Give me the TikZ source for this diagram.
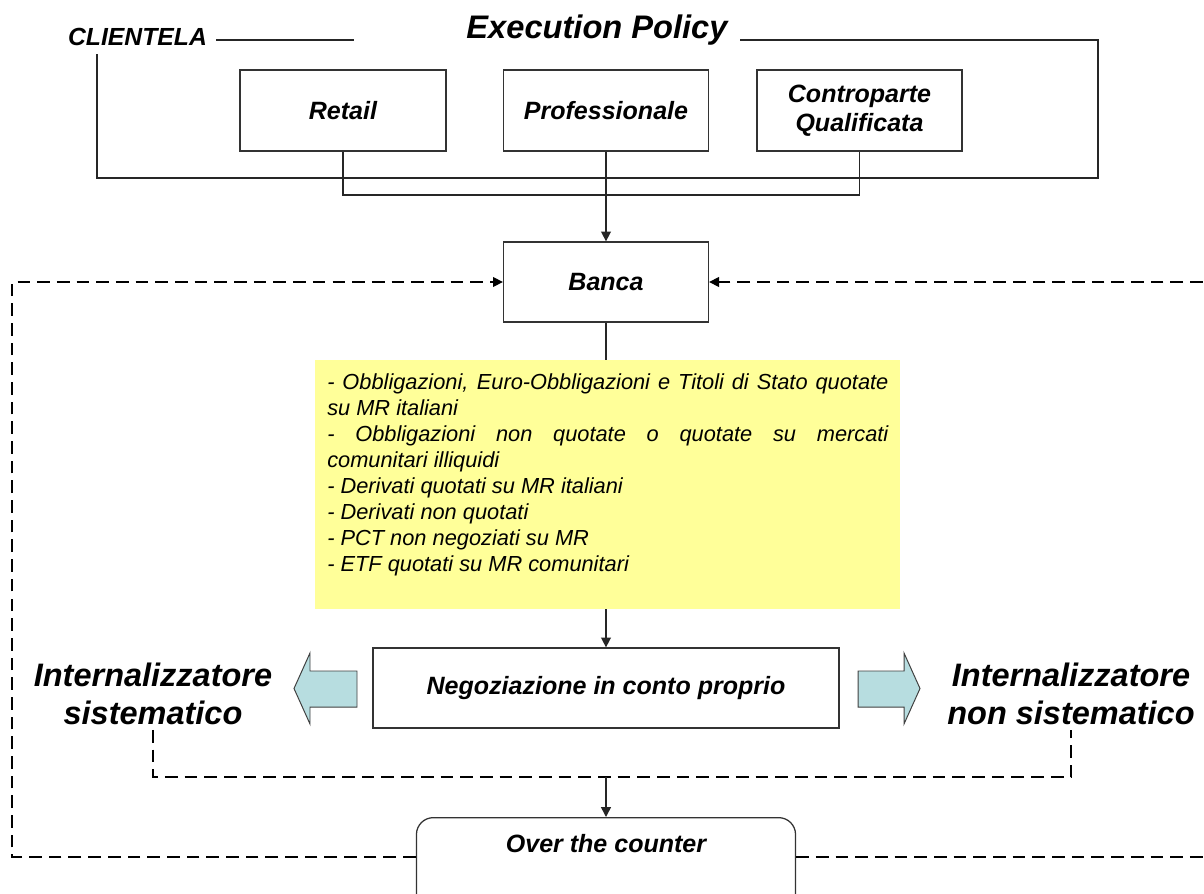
\documentclass[tikz,border=0pt]{standalone}
\usepackage{fontspec}
\setmainfont{Liberation Sans}
\usetikzlibrary{positioning, arrows.meta}
\definecolor{giallino}{RGB}{255,255,153}
\definecolor{azzurrino}{RGB}{183,221,224}
\hyphenpenalty=10000

\begin{document}
\begin{tikzpicture}[x=0.025cm, y=-0.025cm,
    linea/.style={line width=1.1pt, draw=black!85},
    casella/.style={draw=black!80, line width=0.9pt, inner sep=0pt, align=center,
      font=\fontsize{17.8}{20.6}\selectfont\bfseries\itshape},
    tratteggio/.style={line width=1pt, dash pattern=on 9pt off 5pt},
    freccia/.style={draw=black!75, line width=0.7pt, fill=azzurrino},
    grande/.style={align=center, font=\fontsize{23.1}{27}\selectfont\bfseries\itshape},
    >={Triangle[length=7pt, width=7pt]}]

   \useasboundingbox (0,0) rectangle (1204,894);
   \clip (0,0) rectangle (1204,894);

   % titoli
   \node[font=\fontsize{17.6}{20}\selectfont\bfseries\itshape] (clientela) at (137.5,37) {CLIENTELA};
   \node[font=\fontsize{23.2}{27}\selectfont\bfseries\itshape] (policy) at (597,30) {Execution Policy};
   \draw[linea] (216,40) -- (354,40);
   \draw[linea] (740,40) -- (1098,40) -- (1098,178) -- (97,178) -- (97,54);

   % clientela
   \node[casella, minimum width=5.15cm, minimum height=2.025cm] (retail) at (343,110.5) {Retail};
   \node[casella, minimum width=5.125cm, minimum height=2.025cm] (prof) at (606,110.5) {Professionale};
   \node[casella, minimum width=5.125cm, minimum height=2.025cm] (cq) at (859.5,110.5) {Controparte\\Qualificata};

   \node[casella, minimum width=5.125cm, minimum height=2cm] (banca) at (606,282) {Banca};

   % strumenti
   \node[fill=giallino, minimum width=14.625cm, minimum height=6.225cm] (elenco) at (607.5,484.5) {};
   \node[anchor=north west, inner sep=0pt, text width=14.025cm, align=justify,
     font=\fontsize{15.5}{18.5}\selectfont\itshape] (voci) at (327,373)
     {- Obbligazioni, Euro-Obbligazioni e Titoli di Stato quotate\linebreak su MR italiani\\
      - Obbligazioni non quotate o quotate su mercati\linebreak comunitari illiquidi\\
      - Derivati quotati su MR italiani\\
      - Derivati non quotati\\
      - PCT non negoziati su MR\\
      - ETF quotati su MR comunitari};

   \node[casella, minimum width=11.65cm, minimum height=2cm] (negoz) at (606,688) {Negoziazione in conto proprio};
   \node[grande] (intsis) at (153,694) {Internalizzatore\\sistematico};
   \node[grande] (intnon) at (1071,694) {Internalizzatore\\non sistematico};
   \draw[freccia] (357,671) -- (310,671) -- (310,653) -- (294,688.5) -- (310,724) -- (310,707) -- (357,707) -- cycle;
   \draw[freccia] (858,671) -- (904,671) -- (904,653) -- (920,688.5) -- (904,724) -- (904,707) -- (858,707) -- cycle;

   \node[casella, rounded corners=12pt, minimum width=9.475cm, minimum height=2.5cm, anchor=north] (otc) at (606,817) {};
   \node[font=\fontsize{17.8}{20.6}\selectfont\bfseries\itshape] (otcnome) at (606,844) {Over the counter};

   % collegamenti
   \coordinate (raccordo) at (606,195);
   \coordinate (giu) at (606,777);
   \coordinate (sx) at (12,857);
   \coordinate (dx) at (1214,857);

   \draw[linea] (retail.south) |- (raccordo) -| (cq.south);
   \draw[linea, ->] (prof.south) -- (banca.north);
   \draw[linea] (banca.south) -- (banca.south |- elenco.north);
   \draw[linea, ->] (negoz.north |- elenco.south) -- (negoz.north);

   \draw[tratteggio] (intsis.south) |- (giu) -| (intnon.south);
   \draw[linea, ->] (giu) -- (otc.north);
   \draw[tratteggio, ->] (otc.west |- sx) -- (sx) |- (banca.west);
   \draw[tratteggio, ->] (otc.east |- dx) -- (dx) |- (banca.east);
\end{tikzpicture}
\end{document}
